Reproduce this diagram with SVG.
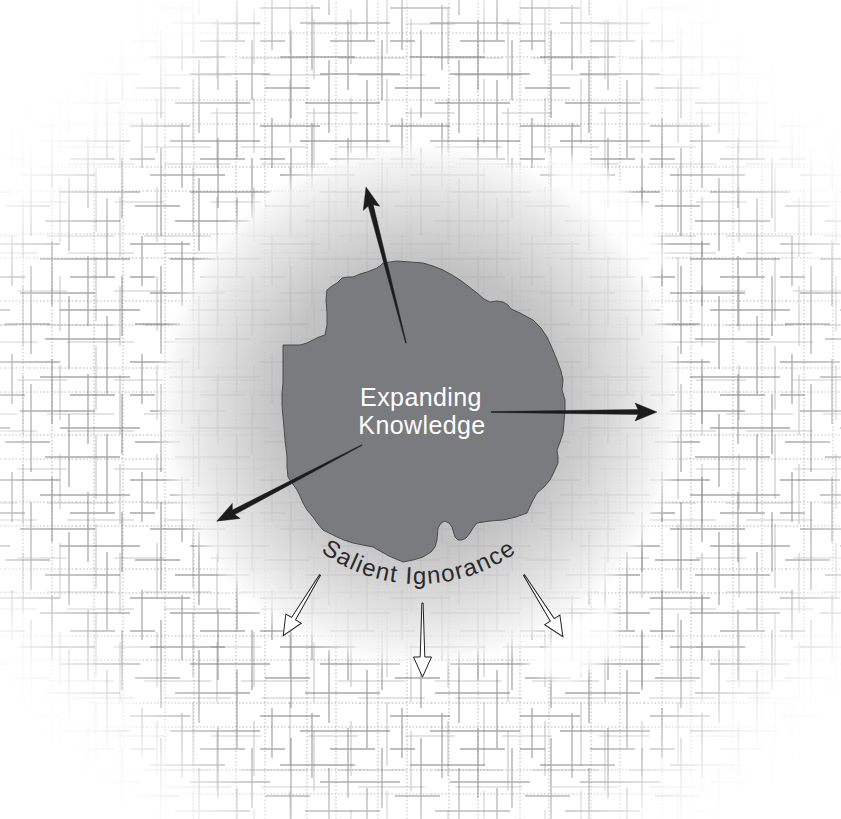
<svg xmlns="http://www.w3.org/2000/svg" width="841" height="819" viewBox="0 0 841 819">
  <style>
    .hatch-a { stroke: #666666; stroke-width: 1.3; stroke-opacity: 0.58; fill: none; }
    .hatch-b { stroke: #909090; stroke-width: 1.2; stroke-opacity: 0.5; fill: none; }
    .hatch-c { stroke: #b4b4b4; stroke-width: 1; stroke-dasharray: 1.5 2; fill: none; }
    .solid-arrow { fill: #1c1c1c; stroke: #1c1c1c; stroke-width: 0.4; stroke-linejoin: miter; }
    .hollow-arrow { fill: #ffffff; stroke: #222222; stroke-width: 1; stroke-linejoin: miter; }
    .core-label { font-family: "Liberation Sans", Arial, sans-serif; font-size: 25px; fill: #ffffff; text-anchor: middle; letter-spacing: 0.4px; }
    .edge-label { font-family: "Liberation Sans", Arial, sans-serif; font-size: 24px; fill: #2a2a2a; letter-spacing: 1.4px; }
  </style>
  <defs>
    <!-- woven line texture, three tiles with unrelated periods -->
    <pattern id="hatchA" width="130" height="118" patternUnits="userSpaceOnUse">
      <path class="hatch-a" d="M0 8H60 M40 23H130 M0 41H25 M70 41H115 M20 57H95 M60 74H130 M0 74H10 M5 88H50 M45 103H120
        M12 0V50 M31 30V118 M52 5V70 M69 60V118 M69 0V15 M88 20V90 M107 0V40 M107 80V118 M122 40V100"/>
    </pattern>
    <pattern id="hatchB" x="17" y="9" width="97" height="89" patternUnits="userSpaceOnUse">
      <path class="hatch-b" d="M0 15H50 M30 49H97 M50 66H97 M0 66H20
        M6 10V70 M43 0V55 M79 0V45 M79 70V89"/>
    </pattern>
    <pattern id="hatchC" x="5" y="3" width="71" height="67" patternUnits="userSpaceOnUse">
      <path class="hatch-c" d="M0 30H71 M0 54H71 M18 0V67 M47 0V67"/>
    </pattern>
    <filter id="softEdge" filterUnits="userSpaceOnUse" x="-120" y="-120" width="1081" height="1059">
      <feGaussianBlur stdDeviation="42"/>
    </filter>
    <filter id="softLine" x="-5%" y="-5%" width="110%" height="110%">
      <feGaussianBlur stdDeviation="0.35"/>
    </filter>
    <filter id="softPatch" x="-20%" y="-20%" width="140%" height="140%">
      <feGaussianBlur stdDeviation="4"/>
    </filter>
    <mask id="textureMask" maskUnits="userSpaceOnUse" x="0" y="0" width="841" height="819">
      <rect width="841" height="819" fill="#000000"/>
      <polygon filter="url(#softEdge)" fill="#ffffff"
        points="290,-20 561,-20 861,280 861,559 581,839 270,839 -20,549 -20,290"/>
    </mask>
    <radialGradient id="halo" cx="420" cy="405" r="268" gradientUnits="userSpaceOnUse">
      <stop offset="0" stop-color="#b0b0b0" stop-opacity="0.92"/>
      <stop offset="0.52" stop-color="#bcbcbc" stop-opacity="0.9"/>
      <stop offset="0.64" stop-color="#cacaca" stop-opacity="0.88"/>
      <stop offset="0.8" stop-color="#e0e0e0" stop-opacity="0.86"/>
      <stop offset="0.93" stop-color="#f5f5f5" stop-opacity="0.8"/>
      <stop offset="1" stop-color="#ffffff" stop-opacity="0"/>
    </radialGradient>
    <path id="ignoranceArc" d="M253 418 A166 166 0 0 0 585 418"/>
  </defs>

  <rect width="841" height="819" fill="#ffffff"/>

  <!-- background texture, fading toward the corners -->
  <g id="texture" mask="url(#textureMask)">
    <g filter="url(#softLine)">
      <rect width="841" height="819" fill="url(#hatchC)"/>
      <rect width="841" height="819" fill="url(#hatchB)"/>
      <rect width="841" height="819" fill="url(#hatchA)"/>
    </g>
  </g>

  <!-- pale clearings at the rim of the halo -->
  <g id="clearings" fill="#ffffff" fill-opacity="0.85" filter="url(#softPatch)">
    <polygon points="545,150 600,165 652,212 668,262 648,282 600,238 555,195"/>
    <polygon points="522,668 570,618 612,600 622,652 566,684"/>
  </g>

  <!-- soft halo around the core -->
  <g id="halo-zone">
    <circle cx="420" cy="405" r="268" fill="url(#halo)"/>
  </g>

  <!-- knowledge core -->
  <g id="knowledge">
    <path fill="#7a7b7e" stroke="#4b4b4d" stroke-width="1" stroke-linejoin="round"
      d="M383 263 L397 261 L410 262 L423 263 L433 266 L443 270 L452 275 L460 280 L468 286 L477 293 L484 299 L490 302 L497 301 L503 302 L508 305 L511 309 L520 313 L533 320 L541 328 L547 337 L552 348 L557 360 L561 371 L563 380 L562 390 L565 400 L565 410 L564 422 L563 433 L560 442 L557 450 L558 457 L558 463 L554 472 L550 480 L544 487 L537 493 L532 502 L527 513 L516 517 L503 520 L490 521 L477 523 L473 528 L470 533 L466 538 L462 540 L458 540 L455 537 L452 527 L449 523 L445 521 L441 523 L438 528 L437 540 L435 547 L431 552 L423 557 L413 560 L403 562 L396 559 L389 556 L380 551 L373 547 L363 545 L353 543 L344 540 L337 537 L329 533 L323 530 L318 524 L313 517 L307 510 L303 503 L300 496 L297 490 L292 483 L288 477 L287 467 L287 457 L286 448 L285 440 L284 428 L283 417 L282 405 L282 393 L283 383 L283 373 L283 360 L283 345 L292 345 L300 345 L307 343 L313 340 L319 337 L325 335 L327 325 L327 313 L326 300 L327 290 L332 286 L337 283 L342 278 L348 277 L353 277 L360 274 L367 272 L372 270 L377 268 L381 265 Z"/>
    <text class="core-label" x="421" y="406">Expanding</text>
    <text class="core-label" x="422" y="434">Knowledge</text>
  </g>

  <!-- ignorance label along the rim -->
  <g id="ignorance">
    <text class="edge-label"><textPath href="#ignoranceArc" startOffset="50%" text-anchor="middle">Salient Ignorance</textPath></text>
  </g>

  <!-- connectors -->
  <g id="connectors">
    <polygon class="solid-arrow" transform="translate(406 343) rotate(-104.38)" points="0,-0.4 142,-2.6 139,-8.5 161,0 139,8.5 142,2.6 0,0.4"/>
    <polygon class="solid-arrow" transform="translate(491 412)" points="0,-0.4 147,-2.6 144,-9 166,0 144,9 147,2.6 0,0.4"/>
    <polygon class="solid-arrow" transform="translate(362 445) rotate(152.34)" points="0,-0.4 145,-2.6 142,-8.5 164,0 142,8.5 145,2.6 0,0.4"/>
    <polygon class="hollow-arrow" transform="translate(320 575) rotate(121.2)" points="0,-0.6 51,-2.3 51,-9 71,0 51,9 51,2.3 0,0.6"/>
    <polygon class="hollow-arrow" transform="translate(422.5 603) rotate(90)" points="0,-0.6 54,-2.3 54,-9 74,0 54,9 54,2.3 0,0.6"/>
    <polygon class="hollow-arrow" transform="translate(524 575) rotate(57.8)" points="0,-0.6 53,-2.3 53,-9 73,0 53,9 53,2.3 0,0.6"/>
  </g>
</svg>
